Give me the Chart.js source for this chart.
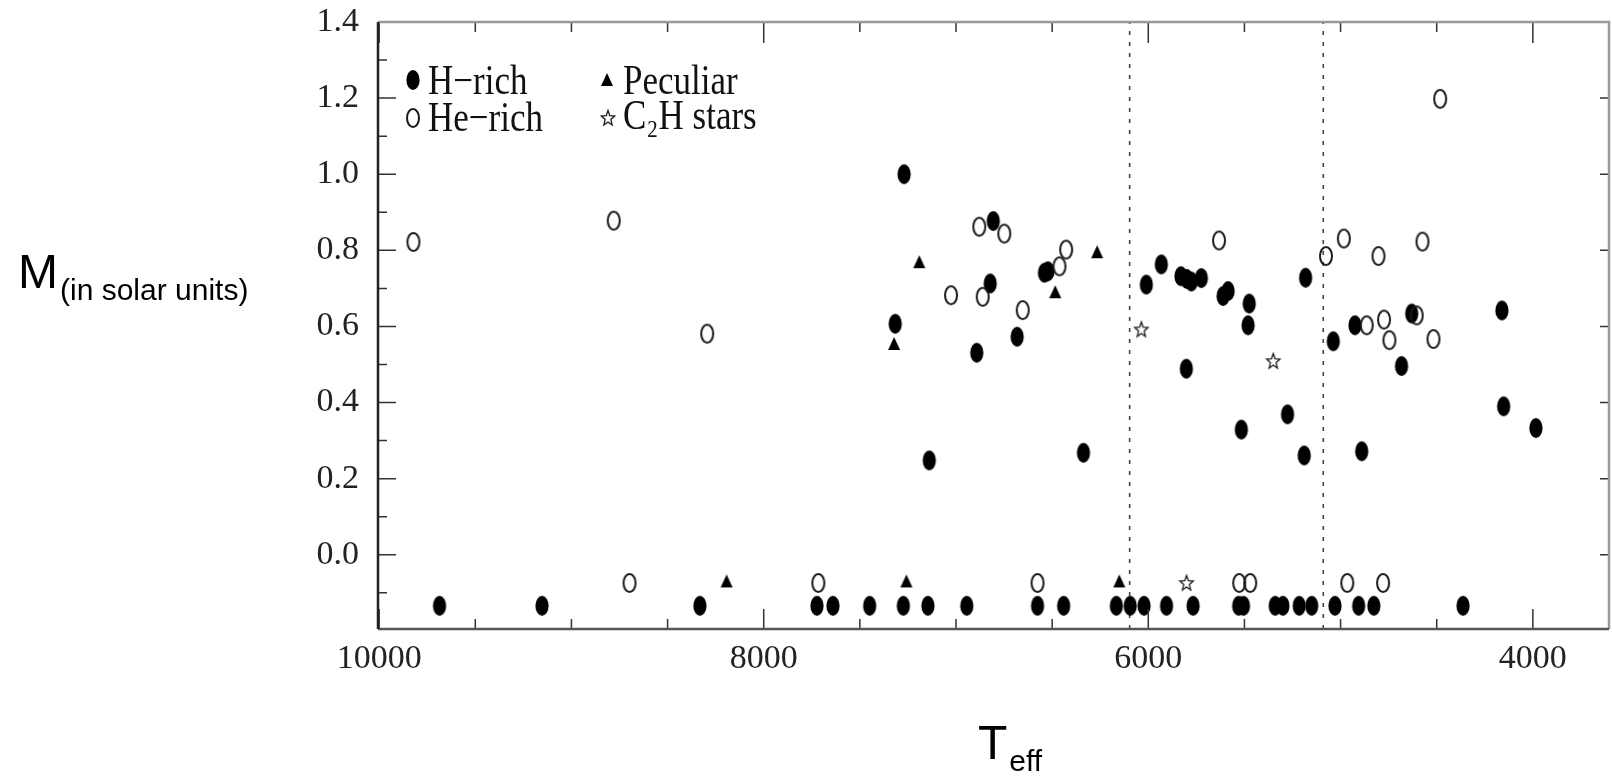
<!DOCTYPE html>
<html>
<head>
<meta charset="utf-8">
<script src="https://cdn.jsdelivr.net/npm/chart.js@4.4.1/dist/chart.umd.min.js"></script>
<style>
  html, body { margin: 0; padding: 0; background: #fff; }
  canvas { display: block; }
</style>
</head>
<body>
<canvas id="massChart" width="1612" height="778"></canvas>
<script>
// H-rich (filled circles); the row at about -0.13 are stars with no mass
const hRichTeff = [7270, 7316, 7139, 6892, 6806, 6822, 6682, 6540, 6522, 6337, 6010, 5932,
  5830, 5800, 5776, 5724, 5802, 5611, 5585, 5475, 5481, 5516, 5276, 5189, 5182, 5038,
  4925, 4890, 4683, 4630, 4161, 4152, 3984,
  9686, 9153, 8332, 7723, 7640, 7449, 7274, 7146, 6944, 6576, 6440, 6166, 6094, 6022,
  5905, 5767, 5530, 5505, 5340, 5300, 5215, 5150, 5029, 4906, 4827, 4363];
const hRichMass = [1.0, 0.607, 0.248, 0.531, 0.877, 0.713, 0.573, 0.741, 0.745, 0.268, 0.71, 0.763,
  0.732, 0.725, 0.718, 0.727, 0.489, 0.68, 0.693, 0.66, 0.603, 0.329, 0.369, 0.261, 0.728, 0.561,
  0.603, 0.272, 0.496, 0.634, 0.642, 0.39, 0.333,
  -0.134, -0.134, -0.134, -0.134, -0.134, -0.134, -0.134, -0.134, -0.134, -0.134, -0.134, -0.134, -0.134,
  -0.134, -0.134, -0.134, -0.134, -0.134, -0.134, -0.134, -0.134, -0.134, -0.134, -0.134, -0.134, -0.134];

// He-rich (open circles)
const heRichTeff = [9822, 8780, 8294, 7026, 6879, 6861, 6749, 6653, 6462, 6427, 5632, 5076, 4983,
  4803, 4864, 4774, 4746, 4604, 4574, 4517, 4482,
  8698, 7716, 6576, 5527, 5470, 4965, 4779];
const heRichMass = [0.822, 0.878, 0.581, 0.682, 0.862, 0.678, 0.844, 0.643, 0.758, 0.802, 0.826, 0.785, 0.831,
  0.785, 0.603, 0.618, 0.564, 0.629, 0.823, 0.567, 1.198,
  -0.074, -0.074, -0.074, -0.074, -0.074, -0.074, -0.074];

// Peculiar (triangles)
const peculiarTeff = [7191, 7322, 6484, 6266, 8193, 7258, 6151];
const peculiarMass = [0.769, 0.554, 0.69, 0.795, -0.07, -0.07, -0.07];

// C2H stars (open stars)
const c2hTeff = [6036, 5350, 5801];
const c2hMass = [0.592, 0.509, -0.074];

// dashed vertical dividers (Teff)
const dividerTeff = [6097, 5090];

// axes
const xMin = 3604, xMax = 10006;
const yMin = -0.195, yMax = 1.4;
const xTickValues = [10000, 8000, 6000, 4000];
const yTickValues = [0.0, 0.2, 0.4, 0.6, 0.8, 1.0, 1.2, 1.4];
const xMinorStep = 500;
const yMinorStep = 0.1;

const serif = "'Liberation Serif', 'DejaVu Serif', serif";
const sans = "'Liberation Sans', Arial, sans-serif";

function zip(xs, ys) {
  return xs.map((v, i) => ({ x: v, y: ys[i] }));
}

// marker images (the scan's symbols are taller than wide)
function makeMark(kind) {
  const c = document.createElement("canvas");
  c.width = 18;
  c.height = 24;
  const g = c.getContext("2d");
  g.fillStyle = "#000";
  g.strokeStyle = "#1a1a1a";
  if (kind === "filled") {
    g.beginPath();
    g.ellipse(9, 12, 6.6, 10, 0, 0, Math.PI * 2);
    g.fill();
  } else if (kind === "open") {
    g.lineWidth = 2;
    g.beginPath();
    g.ellipse(9, 12, 6, 9, 0, 0, Math.PI * 2);
    g.stroke();
  } else if (kind === "triangle") {
    g.beginPath();
    g.moveTo(9, 5);
    g.lineTo(15, 18);
    g.lineTo(3, 18);
    g.closePath();
    g.fill();
  } else if (kind === "star") {
    g.lineWidth = 1.3;
    g.beginPath();
    for (let i = 0; i < 10; i++) {
      const r = i % 2 === 0 ? 7 : 3;
      const a = -Math.PI / 2 + (i * Math.PI) / 5;
      const px = 9 + r * Math.cos(a);
      const py = 12.5 + r * 1.15 * Math.sin(a);
      if (i === 0) g.moveTo(px, py);
      else g.lineTo(px, py);
    }
    g.closePath();
    g.stroke();
  }
  return c;
}

const marks = {
  filled: makeMark("filled"),
  open: makeMark("open"),
  triangle: makeMark("triangle"),
  star: makeMark("star"),
};

// inward ticks and box frame
const frameTicks = {
  id: "frameTicks",
  afterDraw(chart) {
    const { ctx, chartArea: a, scales } = chart;
    const x = scales.x, y = scales.y;
    ctx.save();
    ctx.strokeStyle = "#333";
    ctx.lineWidth = 1.5;
    ctx.beginPath();
    for (let v = Math.ceil(x.min / xMinorStep) * xMinorStep; v <= x.max; v += xMinorStep) {
      const px = x.getPixelForValue(v);
      const major = xTickValues.includes(v);
      ctx.moveTo(px, a.bottom);
      ctx.lineTo(px, a.bottom - (major ? 20 : 10));
      ctx.moveTo(px, a.top);
      ctx.lineTo(px, a.top + (major ? 21 : 10));
    }
    for (let k = Math.ceil(y.min / yMinorStep); k * yMinorStep <= y.max + 1e-9; k++) {
      const py = y.getPixelForValue(k * yMinorStep);
      const major = k % 2 === 0;
      ctx.moveTo(a.left, py);
      ctx.lineTo(a.left + (major ? 18 : 9), py);
      if (major) {
        ctx.moveTo(a.right, py);
        ctx.lineTo(a.right - 9, py);
      }
    }
    ctx.stroke();

    ctx.lineWidth = 2.5;
    ctx.strokeStyle = "#999";
    ctx.beginPath();
    ctx.moveTo(a.left, a.top);
    ctx.lineTo(a.right, a.top);
    ctx.lineTo(a.right, a.bottom);
    ctx.stroke();
    ctx.strokeStyle = "#555";
    ctx.beginPath();
    ctx.moveTo(a.left, a.bottom);
    ctx.lineTo(a.right, a.bottom);
    ctx.stroke();
    ctx.strokeStyle = "#222";
    ctx.beginPath();
    ctx.moveTo(a.left, a.top);
    ctx.lineTo(a.left, a.bottom);
    ctx.stroke();
    ctx.restore();
  },
};

// legend inside the plot and the two axis titles with subscripts
const labels = {
  id: "labels",
  afterDraw(chart) {
    const ctx = chart.ctx;
    ctx.save();
    ctx.fillStyle = "#111";
    ctx.textAlign = "left";
    ctx.textBaseline = "alphabetic";

    const put = (img, cx, cy) => ctx.drawImage(img, cx - img.width / 2, cy - img.height / 2);
    put(marks.filled, 413, 80);
    put(marks.open, 413, 118);
    put(marks.triangle, 607, 80);
    put(marks.star, 608, 118);

    // the scanned lettering is taller than the installed serif, so stretch it a bit
    const tall = (text, tx, ty) => {
      ctx.save();
      ctx.translate(tx, ty);
      ctx.scale(1, 1.2);
      ctx.fillText(text, 0, 0);
      ctx.restore();
    };
    ctx.font = "35px " + serif;
    tall("H\u2212rich", 428, 94);
    tall("He\u2212rich", 428, 131);
    tall("Peculiar", 623, 94);
    tall("C\u2082H stars", 623, 129);

    ctx.fillStyle = "#000";
    ctx.font = "48px " + sans;
    ctx.fillText("M", 18, 288);
    let w = ctx.measureText("M").width;
    ctx.font = "30px " + sans;
    ctx.fillText("(in solar units)", 18 + w + 2, 300);

    ctx.font = "48px " + sans;
    ctx.fillText("T", 978, 759);
    w = ctx.measureText("T").width;
    ctx.font = "30px " + sans;
    ctx.fillText("eff", 978 + w + 2, 771);
    ctx.restore();
  },
};

const pointSet = (data, img) => ({
  data: data,
  pointStyle: img,
  pointRadius: 9,
  order: 1,
});

const datasets = [
  pointSet(zip(heRichTeff, heRichMass), marks.open),
  pointSet(zip(hRichTeff, hRichMass), marks.filled),
  pointSet(zip(peculiarTeff, peculiarMass), marks.triangle),
  pointSet(zip(c2hTeff, c2hMass), marks.star),
];
dividerTeff.forEach((t) => {
  datasets.push({
    data: [{ x: t, y: yMin }, { x: t, y: yMax }],
    showLine: true,
    pointRadius: 0,
    borderColor: "#444",
    borderWidth: 1.6,
    borderDash: [4, 7],
    order: 2,
  });
});

new Chart(document.getElementById("massChart"), {
  type: "scatter",
  data: { datasets },
  options: {
    responsive: false,
    animation: false,
    layout: { autoPadding: false, padding: { top: 22, right: 3, left: 0, bottom: 0 } },
    plugins: { legend: { display: false }, tooltip: { enabled: false } },
    scales: {
      x: {
        type: "linear",
        reverse: true,
        min: xMin,
        max: xMax,
        grid: { display: false, drawTicks: false },
        border: { display: false },
        afterBuildTicks: (s) => { s.ticks = xTickValues.map((v) => ({ value: v })); },
        afterFit: (s) => {
          s.height = 149;
          s.paddingLeft = 0;
          s.paddingRight = 0;
        },
        ticks: {
          font: { family: serif, size: 34 },
          color: "#222",
          padding: 10,
          maxRotation: 0,
          callback: (v) => String(v),
        },
      },
      y: {
        type: "linear",
        min: yMin,
        max: yMax,
        grid: { display: false, drawTicks: false },
        border: { display: false },
        afterBuildTicks: (s) => { s.ticks = yTickValues.map((v) => ({ value: v })); },
        afterFit: (s) => {
          s.width = 378;
          s.paddingTop = 0;
          s.paddingBottom = 0;
        },
        ticks: {
          font: { family: serif, size: 34 },
          color: "#222",
          padding: 19,
          callback: (v) => v.toFixed(1),
        },
      },
    },
  },
  plugins: [frameTicks, labels],
});
</script>
</body>
</html>
